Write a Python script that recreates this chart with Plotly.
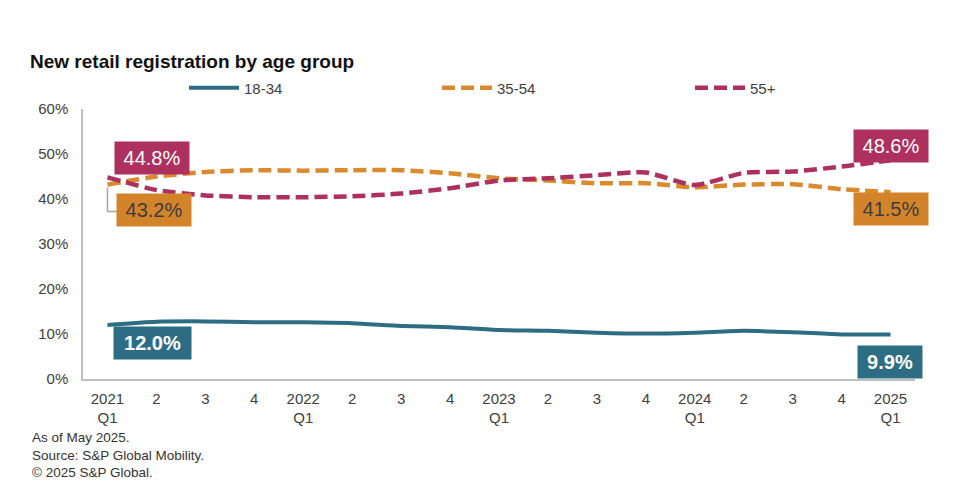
import plotly.graph_objects as go

# ---- data ----
tick_labels = ["2021<br>Q1", "2", "3", "4", "2022<br>Q1", "2", "3", "4",
               "2023<br>Q1", "2", "3", "4", "2024<br>Q1", "2", "3", "4", "2025<br>Q1"]
age_18_34 = [12.0, 12.7, 12.8, 12.6, 12.6, 12.4, 11.8, 11.5, 10.9, 10.7, 10.3, 10.1, 10.3, 10.7, 10.4, 9.9, 9.9]
age_35_54 = [43.2, 45.0, 46.0, 46.4, 46.3, 46.4, 46.4, 45.7, 44.6, 44.1, 43.5, 43.5, 42.6, 43.2, 43.3, 42.2, 41.5]
age_55_plus = [44.8, 42.0, 40.8, 40.4, 40.4, 40.6, 41.2, 42.4, 44.1, 44.6, 45.3, 45.9, 43.1, 45.8, 46.1, 47.2, 48.6]
series_names = ["18-34", "35-54", "55+"]

x_idx = list(range(len(tick_labels)))

TEAL = "#2c6d83"
ORANGE = "#d98a2c"
MAGENTA = "#ad305e"
FONT = "Liberation Sans, Arial, sans-serif"
TXT = "#404040"

fig = go.Figure()
fig.add_trace(go.Scatter(x=x_idx, y=age_18_34, name=series_names[0], mode="lines",
                         line=dict(color=TEAL, width=4, shape="spline", smoothing=0.6)))
fig.add_trace(go.Scatter(x=x_idx, y=age_35_54, name=series_names[1], mode="lines",
                         line=dict(color=ORANGE, width=4.5, dash="13px,6px", shape="spline", smoothing=0.6)))
fig.add_trace(go.Scatter(x=x_idx, y=age_55_plus, name=series_names[2], mode="lines",
                         line=dict(color=MAGENTA, width=4.5, dash="13px,6px", shape="spline", smoothing=0.6)))

def label(xi, val, bg, fc, bold, xs, ys, w):
    txt = f"{val:.1f}%"
    if bold:
        txt = f"<b>{txt}</b>"
    fig.add_annotation(x=xi, y=val, xref="x", yref="y", text=txt, showarrow=False,
                       xshift=xs, yshift=ys, bgcolor=bg, borderpad=3, width=w, height=26,
                       font=dict(family=FONT, size=20, color=fc))

last = len(x_idx) - 1
label(0, age_55_plus[0], MAGENTA, "white", False, 45, 19, 68)
label(0, age_35_54[0], "#d3842b", "#3c3c3c", False, 47, -25, 68)
label(last, age_55_plus[last], MAGENTA, "white", False, 0, 14, 68)
label(last, age_35_54[last], "#d3842b", "#3c3c3c", False, 0, -17, 68)
label(0, age_18_34[0], TEAL, "white", True, 45, -18, 71)
label(last, age_18_34[last], TEAL, "white", True, -1, -28, 58)

# leader line for 43.2% label
fig.add_shape(type="path", xref="x", yref="y", xsizemode="pixel", ysizemode="pixel",
              xanchor=0, yanchor=age_35_54[0], path="M0,-3 L0,-27 L10,-27",
              line=dict(color="#a6a6a6", width=1.5))

fig.update_layout(
    width=960, height=490,
    margin=dict(l=83, r=45, t=109, b=111),
    paper_bgcolor="white", plot_bgcolor="white",
    font=dict(family=FONT, color=TXT, size=15),
    title=dict(text="<b>New retail registration by age group</b>", xref="container", yref="container",
               x=30 / 960, xanchor="left", y=1 - 61 / 490, yanchor="middle",
               font=dict(family=FONT, size=19, color="#111111")),
    legend=dict(orientation="h", x=0.1214, xanchor="left", y=1.078, yanchor="middle",
                itemwidth=50, entrywidth=188, entrywidthmode="pixels",
                font=dict(size=15, color=TXT), bgcolor="rgba(0,0,0,0)"),
    showlegend=True,
)
fig.update_xaxes(range=[-0.5, 16.5], tickmode="array", tickvals=x_idx, ticktext=tick_labels,
                 showline=True, linecolor="#bfbfbf", linewidth=1.5, showgrid=False, zeroline=False,
                 ticks="", ticklabelstandoff=5, tickfont=dict(size=15, color=TXT))
fig.update_yaxes(range=[0, 60], dtick=10, ticksuffix="%", showline=True, linecolor="#bfbfbf",
                 linewidth=1.5, showgrid=False, zeroline=False, ticks="", ticklabelstandoff=10,
                 tickfont=dict(size=15, color=TXT))

footer = ["As of May 2025.", "Source: S&P Global Mobility.", "\u00a9 2025 S&P Global."]
fig.add_annotation(text="<br>".join(footer), xref="paper", yref="paper",
                   x=(30 - 83) / 832, y=(379 - 428) / 270, xanchor="left", yanchor="top",
                   align="left", showarrow=False,
                   font=dict(family=FONT, size=13.5, color="#333333"))

fig.write_html("out.html", config={"displayModeBar": False},
               post_script="document.body.style.margin='0';")
